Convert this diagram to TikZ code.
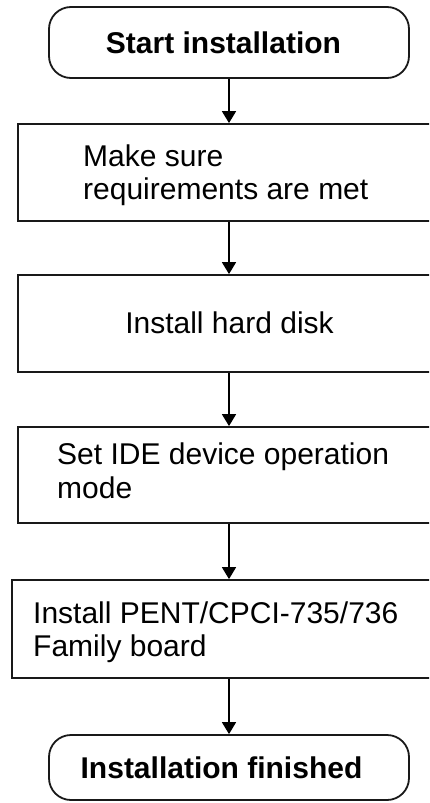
\documentclass[tikz,border=0pt]{standalone}
\usepackage{fontspec}
\setmainfont{Liberation Sans}
\usetikzlibrary{arrows.meta}
\begin{document}
\begin{tikzpicture}[x=1pt,y=-1pt,
  boxline/.style={draw=black!90,line width=1.8pt},
  termbox/.style={boxline,rounded corners=22pt},
  stepbox/.style={boxline},
  txt/.style={inner sep=0pt,font=\fontsize{30}{34}\selectfont},
  btxt/.style={inner sep=0pt,font=\fontsize{30}{34}\selectfont\bfseries},
  flow/.style={line width=1.6pt,-{Triangle[width=14pt,length=12pt]}}]
\useasboundingbox (0,0) rectangle (429,803);
\clip (0,0) rectangle (429,803);
% shapes
\node[termbox,minimum width=360pt,minimum height=71pt] (start) at (229,42.5) {};
\node[stepbox,minimum width=422pt,minimum height=97pt] (b1) at (229,172.5) {};
\node[stepbox,minimum width=422pt,minimum height=97pt] (b2) at (229,323.5) {};
\node[stepbox,minimum width=422pt,minimum height=96pt] (b3) at (229,475) {};
\node[stepbox,minimum width=428pt,minimum height=98pt] (b4) at (226,629) {};
\node[termbox,minimum width=360pt,minimum height=65pt] (end) at (229,767.5) {};
% texts
\node[btxt,anchor=base] (t0) at (223.5,53) {Start installation};
\node[txt,anchor=base west] (t1a) at (83,166) {Make sure};
\node[txt,anchor=base west] (t1b) at (83,199.5) {requirements are met};
\node[txt,anchor=base] (t2) at (229.5,333) {Install hard disk};
\node[txt,anchor=base west] (t3a) at (57,464) {Set IDE device operation};
\node[txt,anchor=base west] (t3b) at (57,498.5) {mode};
\node[txt,anchor=base west] (t4a) at (33,623) {Install PENT/CPCI-735/736};
\node[txt,anchor=base west] (t4b) at (33,656) {Family board};
\node[btxt,anchor=base] (t5) at (221.5,778) {Installation finished};
% connectors
\draw[flow] (start.south) -- (start.south |- b1.north);
\draw[flow] (b1.south) -- (b2.north);
\draw[flow] (b2.south) -- (b3.north);
\draw[flow] (b3.south) -- (b3.south |- b4.north);
\draw[flow] (b4.south -| b3.south) -- (b3.south |- end.north);
\end{tikzpicture}
\end{document}
